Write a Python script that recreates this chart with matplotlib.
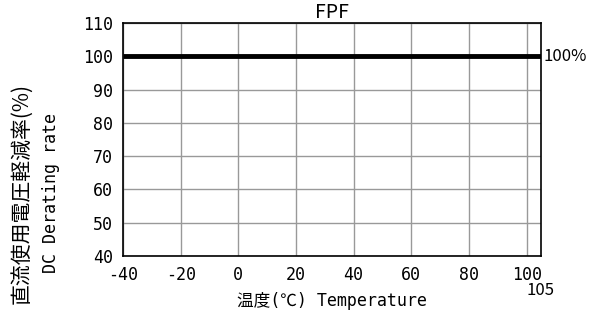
import matplotlib
matplotlib.use("Agg")
import matplotlib.pyplot as plt
import matplotlib.transforms as mtransforms

plt.rcParams['font.family'] = ['DejaVu Sans Mono', 'Noto Sans CJK JP']

temperature = [-40, 105]
derating = [100, 100]
x_ticks = [-40, -20, 0, 20, 40, 60, 80, 100]
y_ticks = [40, 50, 60, 70, 80, 90, 100, 110]
title = "FPF"

fig = plt.figure(figsize=(5.95, 3.24), dpi=100)
ax = fig.add_axes([123/595, 1-256/324, (541-123)/595, (256-23)/324])

ax.plot(temperature, derating, color='black', linewidth=3.5, solid_capstyle='butt')
ax.set_xlim(-40, 105)
ax.set_ylim(40, 110)
ax.set_xticks(x_ticks)
ax.set_yticks(y_ticks)
ax.set_xticklabels([str(v) for v in x_ticks], fontsize=12)
ax.set_yticklabels([str(v) for v in y_ticks], fontsize=12)
ax.grid(True, color='#999999', linewidth=1)
ax.set_axisbelow(True)
ax.tick_params(length=0, pad=7)
for s in ax.spines.values():
    s.set_linewidth(1.2)
    s.set_color('black')

ax.set_title(title, fontsize=14, pad=1, family=['Noto Sans CJK JP'])

trans = mtransforms.blended_transform_factory(ax.transData, ax.transAxes)
ax.text(105, -0.11, "105", transform=trans, ha='center', va='top', fontsize=12,
        family=['Noto Sans CJK JP'])
ax.text(105.7, 100, "100%", ha='left', va='center', fontsize=12,
        family=['Noto Sans CJK JP'])

ax.set_xlabel("温度(℃) Temperature", fontsize=12, labelpad=6)
fig.text(21/595, 1-194/324, "直流使用電圧軽減率(%)", rotation=90, ha='center', va='center',
         fontsize=15, family=['Noto Sans CJK JP'])
fig.text(51/595, 1-193/324, "DC Derating rate", rotation=90, ha='center', va='center', fontsize=12)

fig.savefig("out.png", dpi=100)
